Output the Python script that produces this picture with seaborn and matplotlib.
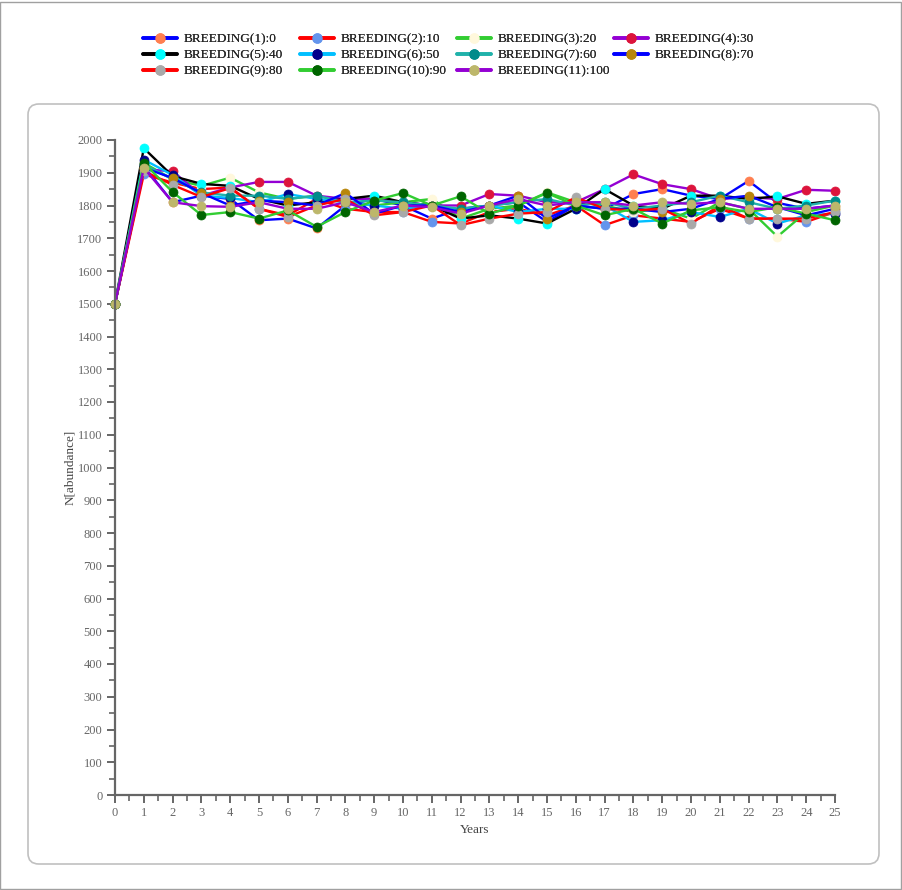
import matplotlib
matplotlib.use("Agg")
import matplotlib.pyplot as plt
from matplotlib.lines import Line2D
from matplotlib.patches import FancyBboxPatch, Rectangle
from matplotlib.ticker import MultipleLocator
import numpy as np
import pandas as pd
import seaborn as sns

years = list(range(0, 26))

series_names = [
    "BREEDING(1):0", "BREEDING(2):10", "BREEDING(3):20", "BREEDING(4):30",
    "BREEDING(5):40", "BREEDING(6):50", "BREEDING(7):60", "BREEDING(8):70",
    "BREEDING(9):80", "BREEDING(10):90", "BREEDING(11):100",
]

line_colors = [
    "#0000FF", "#FF0000", "#32CD32", "#9400D3", "#000000", "#00BFFF",
    "#20B2AA", "#0000FF", "#FF0000", "#32CD32", "#9400D3",
]
marker_colors = [
    "#FF7F50", "#6495ED", "#FFF8DC", "#DC143C", "#00FFFF", "#00008B",
    "#008B8B", "#B8860B", "#A9A9A9", "#006400", "#BDB76B",
]

breeding_1 = [1500, 1920, 1810, 1830, 1820, 1755, 1760, 1730, 1800, 1820, 1800, 1760, 1790,
              1800, 1810, 1750, 1800, 1790, 1835, 1850, 1830, 1820, 1875, 1808, 1790, 1800]
breeding_2 = [1500, 1895, 1870, 1850, 1855, 1790, 1770, 1820, 1790, 1780, 1780, 1750, 1745,
              1780, 1790, 1770, 1800, 1740, 1770, 1760, 1750, 1790, 1760, 1760, 1750, 1780]
breeding_3 = [1500, 1930, 1880, 1860, 1885, 1840, 1820, 1830, 1810, 1800, 1810, 1820, 1760,
              1790, 1800, 1840, 1810, 1800, 1780, 1790, 1760, 1810, 1790, 1705, 1780, 1800]
breeding_4 = [1500, 1910, 1905, 1830, 1855, 1872, 1872, 1830, 1820, 1820, 1810, 1800, 1800,
              1835, 1830, 1810, 1810, 1850, 1895, 1865, 1850, 1820, 1825, 1820, 1848, 1845]
breeding_5 = [1500, 1975, 1890, 1866, 1860, 1820, 1800, 1810, 1820, 1830, 1810, 1800, 1760,
              1770, 1760, 1745, 1790, 1850, 1800, 1790, 1830, 1830, 1820, 1828, 1805, 1815]
breeding_6 = [1500, 1940, 1893, 1830, 1823, 1810, 1835, 1820, 1810, 1800, 1790, 1800, 1780,
              1800, 1780, 1790, 1790, 1800, 1750, 1755, 1780, 1765, 1790, 1745, 1770, 1775]
breeding_7 = [1500, 1925, 1880, 1840, 1830, 1830, 1820, 1830, 1810, 1815, 1810, 1800, 1790,
              1800, 1810, 1820, 1800, 1810, 1790, 1800, 1810, 1830, 1810, 1790, 1800, 1815]
breeding_8 = [1500, 1915, 1884, 1838, 1800, 1815, 1810, 1800, 1838, 1775, 1800, 1800, 1780,
              1800, 1830, 1760, 1800, 1790, 1790, 1780, 1790, 1820, 1830, 1795, 1770, 1790]
breeding_9 = [1500, 1905, 1863, 1826, 1853, 1790, 1765, 1800, 1820, 1770, 1780, 1800, 1740,
              1760, 1775, 1780, 1825, 1790, 1785, 1790, 1745, 1800, 1760, 1760, 1760, 1780]
breeding_10 = [1500, 1930, 1841, 1771, 1780, 1760, 1785, 1735, 1780, 1815, 1838, 1800, 1828,
               1775, 1800, 1838, 1800, 1770, 1790, 1745, 1785, 1795, 1780, 1795, 1775, 1755]
breeding_11 = [1500, 1915, 1810, 1798, 1796, 1810, 1790, 1790, 1810, 1780, 1800, 1795, 1775,
               1800, 1820, 1800, 1810, 1810, 1800, 1810, 1805, 1810, 1790, 1790, 1790, 1800]

all_series = [breeding_1, breeding_2, breeding_3, breeding_4, breeding_5, breeding_6,
              breeding_7, breeding_8, breeding_9, breeding_10, breeding_11]

sns.set_theme(style="white")
plt.rcParams["font.family"] = ["Liberation Serif", "DejaVu Serif"]

W, H = 903, 890
fig = plt.figure(figsize=(W / 100, H / 100), dpi=100)
fig.patch.set_facecolor("white")

# outer frame and rounded panel
fig.add_artist(Rectangle((0.5 / W, 1.5 / H), (W - 2) / W, (H - 3) / H,
                         transform=fig.transFigure, fill=False,
                         edgecolor="#a0a0a0", linewidth=1.0))
fig.add_artist(FancyBboxPatch((28 / W, 1 - 864 / H), (879 - 28) / W, (864 - 104) / H,
                              boxstyle="round,pad=0,rounding_size=0.012",
                              transform=fig.transFigure, fill=False,
                              edgecolor="#c0c0c0", linewidth=1.2))

ax = fig.add_axes([115 / W, 1 - 795 / H, (835 - 115) / W, (795 - 140) / H])
ax.set_facecolor("none")

for name, vals, lc, mc in zip(series_names, all_series, line_colors, marker_colors):
    df = pd.DataFrame({"Years": years, "N": vals})
    sns.lineplot(data=df, x="Years", y="N", ax=ax, color=lc, linewidth=1.7,
                 marker="o", markersize=6.5, markerfacecolor=mc,
                 markeredgecolor=mc, markeredgewidth=0.5, clip_on=False,
                 legend=False)

ax.set_xlim(0, 25)
ax.set_ylim(0, 2000)
ax.xaxis.set_major_locator(MultipleLocator(1))
ax.xaxis.set_minor_locator(MultipleLocator(0.5))
ax.yaxis.set_major_locator(MultipleLocator(100))
ax.yaxis.set_minor_locator(MultipleLocator(50))

for side in ["top", "right"]:
    ax.spines[side].set_visible(False)
for side in ["left", "bottom"]:
    ax.spines[side].set_color("#666666")
    ax.spines[side].set_linewidth(1.6)

ax.tick_params(axis="both", which="major", direction="out", length=6, width=1.4,
               color="#666666", labelcolor="#666666", labelsize=9)
ax.tick_params(axis="both", which="minor", direction="out", length=4, width=1.2,
               color="#666666")
ax.tick_params(axis="x", which="both", bottom=True, pad=3)
ax.tick_params(axis="y", which="both", left=True, pad=3)

ax.set_xlabel("Years", fontsize=9.5, color="#444444", labelpad=3)
ax.set_ylabel("N[abundance]", fontsize=9.5, color="#444444", labelpad=1)

handles = [Line2D([0], [0], color=lc, linewidth=2.6, marker="o", markersize=6.5,
                  markerfacecolor=mc, markeredgecolor=mc)
           for lc, mc in zip(line_colors, marker_colors)]

# one legend per column so that the four columns sit on an even grid
n_cols = 4
col_step = 157
for c in range(n_cols):
    idx = [i for i in range(len(series_names)) if i % n_cols == c]
    leg = fig.legend([handles[i] for i in idx], [series_names[i] for i in idx],
                     loc="upper left",
                     bbox_to_anchor=((143 + col_step * c) / W, 1 - 33 / H),
                     ncol=1, frameon=False, fontsize=9.5, handlelength=2.6,
                     handletextpad=0.45, labelspacing=0.3, borderaxespad=0,
                     borderpad=0)
    fig.add_artist(leg)

fig.savefig("out.png", dpi=100, facecolor="white")
